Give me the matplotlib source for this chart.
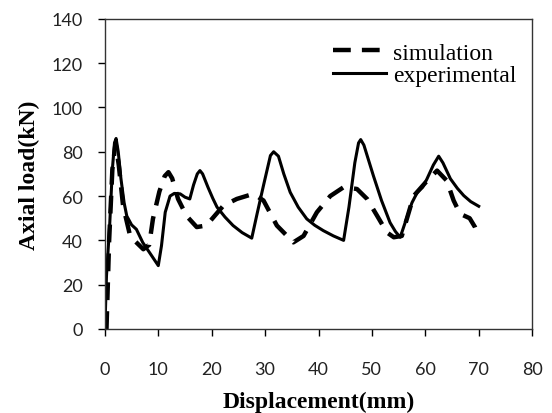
import numpy as np
import matplotlib.pyplot as plt

# displacement (mm) / axial load (kN)
exp_x = [0.0, 0.3, 0.9, 1.4, 1.8, 2.1, 2.5, 3.0, 3.6, 4.1, 5.0, 5.9, 7.1, 8.5, 10.0,
         10.6, 11.3, 12.2, 13.0, 14.1, 15.0, 15.9, 16.6, 17.3, 17.8, 18.3, 19.3, 20.2,
         21.0, 22.5, 24.0, 25.7, 27.5, 28.5, 29.7, 31.0, 31.6, 32.5, 33.5, 34.7, 36.2,
         37.8, 39.3, 40.9, 42.8, 44.7, 45.7, 46.8, 47.5, 47.9, 48.5, 49.4, 50.3, 51.8,
         53.4, 54.4, 55.3, 56.5, 57.5, 58.5, 59.5, 60.3, 61.5, 62.5, 63.3, 64.7, 66.0,
         67.2, 68.5, 70.0]
exp_y = [0.0, 24.0, 47.0, 72.0, 84.0, 86.0, 80.0, 68.0, 57.0, 51.0, 47.0, 45.0, 39.0, 34.0, 28.6,
         37.6, 52.7, 60.0, 61.2, 61.0, 59.5, 58.7, 65.0, 70.0, 71.5, 70.0, 64.0, 59.0,
         55.0, 50.5, 46.7, 43.5, 41.0, 52.0, 64.8, 78.3, 80.0, 78.0, 70.0, 61.7, 55.0,
         49.7, 46.8, 44.4, 42.0, 40.0, 55.0, 75.0, 84.0, 85.5, 83.0, 76.0, 69.0, 58.0,
         48.0, 44.0, 41.4, 50.0, 57.0, 61.7, 64.0, 67.7, 74.0, 78.0, 75.0, 67.8, 63.5,
         60.2, 57.5, 55.4]

sim_x = [0.3, 0.8, 1.4, 2.0, 2.6, 3.4, 4.7, 5.5, 7.2, 8.3, 9.0, 10.2, 11.2, 11.9, 12.6, 13.7, 15.3,
         17.2, 19.0, 22.2, 24.7, 27.8, 29.7, 32.2, 35.3, 37.2, 39.7, 42.2, 44.7,
         47.2, 49.1, 51.0, 52.8, 54.1, 55.6, 57.8, 60.0, 62.2, 64.0, 65.3, 66.5, 68.3, 69.3, 70.0]
sim_y = [0.0, 40.0, 72.0, 84.0, 74.0, 55.7, 42.3, 40.0, 36.0, 38.0, 49.7, 62.0, 69.0, 70.8, 68.0, 58.7, 51.0,
         46.0, 46.7, 55.7, 58.7, 61.0, 58.0, 46.7, 39.1, 42.0, 52.7, 60.0, 64.0,
         63.2, 58.7, 51.0, 43.6, 41.4, 42.0, 60.0, 66.0, 71.5, 67.0, 58.0, 52.0, 50.0, 46.0, 41.4]

x_ticks = np.arange(0, 81, 10)
y_ticks = np.arange(0, 141, 20)

fig = plt.figure(figsize=(5.52, 4.14), dpi=100)
ax = fig.add_axes([0.190, 0.203, 0.774, 0.749])

ax.plot(sim_x, sim_y, color='black', lw=3.2, dashes=(4.0, 2.5), label='simulation')
ax.plot(exp_x, exp_y, color='black', lw=2.2, label='experimental')

ax.set_xlim(0, 80)
ax.set_ylim(0, 140)
ax.set_xticks(x_ticks)
ax.set_yticks(y_ticks)
ax.tick_params(direction='out', length=5, width=1, labelsize=13, top=False, right=False)
ax.tick_params(axis='x', pad=18)
ax.tick_params(axis='y', pad=11)
for lab in ax.get_xticklabels() + ax.get_yticklabels():
    lab.set_family('Lato')
    lab.set_color('#222222')
for s in ax.spines.values():
    s.set_linewidth(1.0)
    s.set_color('#333333')

ax.set_xlabel('Displacement(mm)', fontfamily='Liberation Serif', fontweight='bold', fontsize=17, labelpad=10)
ax.set_ylabel('Axial load(kN)', fontfamily='Liberation Serif', fontweight='bold', fontsize=17, labelpad=8)

leg = ax.legend(loc='upper left', bbox_to_anchor=(0.534, 0.925), frameon=False,
                prop={'family': 'Liberation Serif', 'size': 17},
                handlelength=2.25, handletextpad=0.3, labelspacing=0.05,
                borderaxespad=0.0, borderpad=0.0)

fig.savefig('out.png', dpi=100)
